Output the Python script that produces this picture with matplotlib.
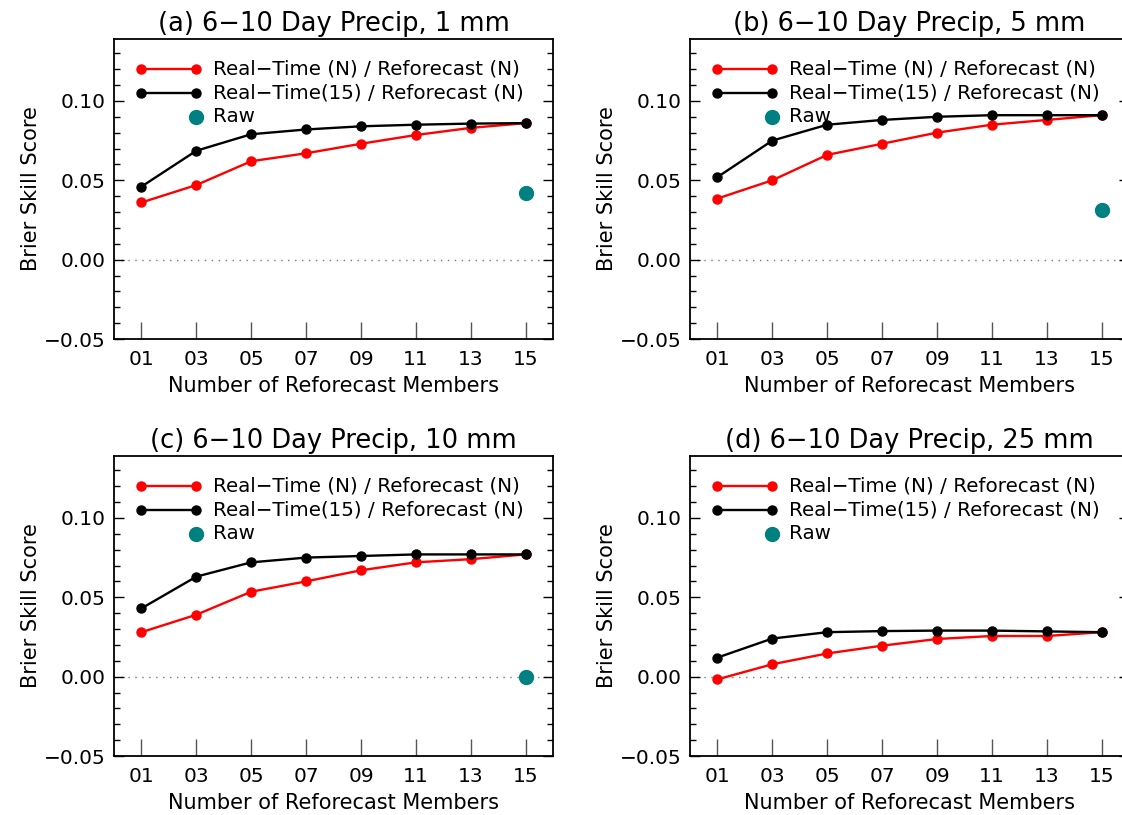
import matplotlib
matplotlib.use("Agg")
import matplotlib.pyplot as plt
from matplotlib.ticker import MultipleLocator, FuncFormatter

members = [1, 3, 5, 7, 9, 11, 13, 15]
member_labels = ["01", "03", "05", "07", "09", "11", "13", "15"]

titles = ["(a) 6\u221210 Day Precip, 1 mm", "(b) 6\u221210 Day Precip, 5 mm",
          "(c) 6\u221210 Day Precip, 10 mm", "(d) 6\u221210 Day Precip, 25 mm"]

a_red = [0.036, 0.047, 0.062, 0.067, 0.073, 0.0785, 0.083, 0.086]
a_black = [0.046, 0.0686, 0.079, 0.082, 0.084, 0.085, 0.0857, 0.086]
b_red = [0.0385, 0.050, 0.066, 0.073, 0.080, 0.085, 0.088, 0.091]
b_black = [0.052, 0.075, 0.085, 0.088, 0.090, 0.091, 0.091, 0.091]
c_red = [0.028, 0.039, 0.0535, 0.060, 0.067, 0.072, 0.074, 0.077]
c_black = [0.043, 0.063, 0.072, 0.075, 0.076, 0.077, 0.077, 0.077]
d_red = [-0.0017, 0.0078, 0.0146, 0.0195, 0.0237, 0.0256, 0.0256, 0.028]
d_black = [0.012, 0.024, 0.028, 0.0287, 0.029, 0.029, 0.0285, 0.028]

raw_x = 15
raw_vals = [0.042, 0.031, 0.000, None]

red_series = [a_red, b_red, c_red, d_red]
black_series = [a_black, b_black, c_black, d_black]

legend_labels = ["Real\u2212Time (N) / Reforecast (N)",
                 "Real\u2212Time(15) / Reforecast (N)",
                 "Raw"]

TEAL = "#008080"
YMIN, YMAX = -0.05, 0.139

fig = plt.figure(figsize=(11.22, 8.15), dpi=100)
positions = [
    [114 / 1122, (815 - 339) / 815, 439 / 1122, 300 / 815],
    [690 / 1122, (815 - 339) / 815, 439 / 1122, 300 / 815],
    [114 / 1122, (815 - 756) / 815, 439 / 1122, 300 / 815],
    [690 / 1122, (815 - 756) / 815, 439 / 1122, 300 / 815],
]

def yfrac(v):
    return (v - YMIN) / (YMAX - YMIN)

yfmt = FuncFormatter(lambda v, p: ("%.2f" % v).replace("-", "\u2212"))

for i in range(4):
    ax = fig.add_axes(positions[i])
    ax.set_xlim(0, 16)
    ax.set_ylim(YMIN, YMAX)
    ax.axhline(0, color="#777777", ls=(0, (1, 4)), lw=1.0, zorder=1)

    ax.plot(members, red_series[i], color="red", lw=1.7, marker="o",
            ms=6.5, zorder=3)
    ax.plot(members, black_series[i], color="black", lw=1.7, marker="o",
            ms=6.5, zorder=4)
    if raw_vals[i] is not None:
        ax.plot([raw_x], [raw_vals[i]], ls="none", marker="o", ms=10,
                color=TEAL, zorder=5, clip_on=False)

    # legend drawn in axes coordinates
    lx0, lx1, tx = 1 / 16, 3 / 16, 0.225
    ly = [yfrac(0.120), yfrac(0.105), yfrac(0.090)]
    ax.plot([lx0, lx1], [ly[0], ly[0]], color="red", lw=1.7, marker="o",
            ms=6.5, transform=ax.transAxes)
    ax.plot([lx0, lx1], [ly[1], ly[1]], color="black", lw=1.7, marker="o",
            ms=6.5, transform=ax.transAxes)
    ax.plot([lx1], [ly[2]], ls="none", marker="o", ms=10, color=TEAL,
            transform=ax.transAxes)
    for k in range(3):
        ax.text(tx, ly[k], legend_labels[k], transform=ax.transAxes,
                fontsize=14.3, va="center", ha="left")

    ax.set_xticks(members)
    ax.set_xticklabels(member_labels)
    ax.tick_params(axis="x", direction="in", length=12, width=1.0,
                   color="#555555", top=False, labelsize=14.5, pad=8)
    ax.yaxis.set_major_locator(MultipleLocator(0.05))
    ax.yaxis.set_minor_locator(MultipleLocator(0.01))
    ax.yaxis.set_major_formatter(yfmt)
    ax.tick_params(axis="y", which="major", direction="in", length=7,
                   width=1.0, left=True, right=True, labelsize=14.5, pad=6)
    ax.tick_params(axis="y", which="minor", direction="in", length=4,
                   width=1.0, left=True, right=True)
    for sp in ax.spines.values():
        sp.set_linewidth(1.3)

    ax.set_title(titles[i], fontsize=18.5, pad=6)
    ax.set_xlabel("Number of Reforecast Members", fontsize=15, labelpad=5)
    ax.set_ylabel("Brier Skill Score", fontsize=15, labelpad=2)

fig.savefig("out.png", dpi=100)
